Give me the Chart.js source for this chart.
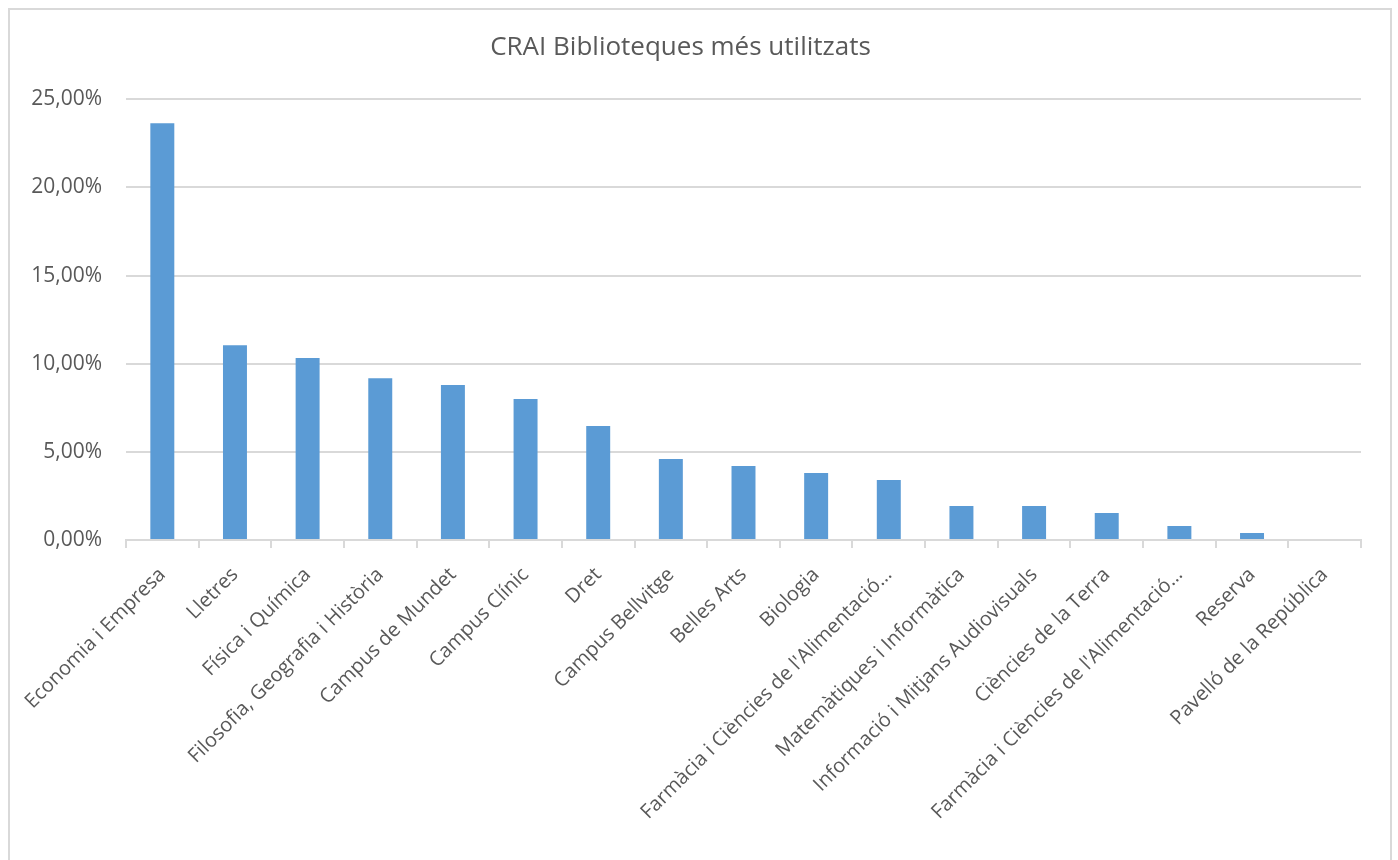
<!DOCTYPE html>
<html>
<head>
<meta charset="utf-8">
<script src="https://cdn.jsdelivr.net/npm/chart.js@4"></script>
<style>
	html, body { margin: 0; padding: 0; background: #fff; }
	#frame {
		position: absolute; left: 8px; top: 8px; width: 1380px; height: 860px;
		border: 2px solid #d9d9d9; border-bottom: none;
	}
	#box { position: absolute; left: 0; top: 0; width: 1398px; height: 860px; }
</style>
</head>
<body>
<div id="frame"></div>
<div id="box"><canvas id="my_chart" width="1398" height="860"></canvas></div>
<script>
// Chart data
const libraries = ['Economia i Empresa', 'Lletres', 'Física i Química',
	'Filosofia, Geografia i Història', 'Campus de Mundet', 'Campus Clínic',
	'Dret', 'Campus Bellvitge', 'Belles Arts', 'Biologia',
	"Farmàcia i Ciències de l'Alimentació…", 'Matemàtiques i Informàtica',
	'Informació i Mitjans Audiovisuals', 'Ciències de la Terra',
	"Farmàcia i Ciències de l'Alimentació…", 'Reserva', 'Pavelló de la República']
const usage = [23.64, 11.05, 10.32, 9.18, 8.79, 7.99, 6.46, 4.59, 4.19, 3.80,
	3.40, 1.93, 1.93, 1.53, 0.79, 0.40, 0]
const y_ticks = [0, 5, 10, 15, 20, 25]

const text_color = '#595959'
const grid_color = '#d9d9d9'

var ctx = document.getElementById('my_chart')
var chart = new Chart(ctx, {
	type: 'bar',
	data: {
		labels: libraries,
		datasets: [{
			data: usage,
			backgroundColor: '#5b9bd5',
			categoryPercentage: 1,
			barPercentage: 0.33
		}]
	},
	options: {
		responsive: false,
		animation: false,
		layout: { padding: { left: 0, right: 37, top: 0, bottom: 0 } },
		plugins: {
			legend: { display: false },
			tooltip: { enabled: false },
			title: {
				display: true,
				text: 'CRAI Biblioteques més utilitzats',
				color: text_color,
				font: { family: 'Open Sans', size: 26, weight: 'normal' },
				padding: { top: 32, bottom: 36 }
			}
		},
		scales: {
			x: {
				grid: {
					drawOnChartArea: false,
					color: grid_color,
					lineWidth: 2,
					tickLength: 8
				},
				border: { color: grid_color, width: 2 },
				ticks: {
					autoSkip: false,
					minRotation: 45,
					maxRotation: 45,
					padding: 15,
					color: text_color,
					font: { family: 'Open Sans', size: 20 }
				},
				afterFit: function(scale) { scale.height = 320 }
			},
			y: {
				min: 0,
				max: 25,
				afterBuildTicks: function(scale) {
					scale.ticks = y_ticks.map(v => ({ value: v }))
				},
				grid: { color: grid_color, lineWidth: 2, drawTicks: false },
				border: { display: false },
				ticks: {
					padding: 24,
					color: text_color,
					font: { family: 'Open Sans', size: 21 },
					callback: v => v.toFixed(2).replace('.', ',') + '%'
				},
				afterFit: function(scale) { scale.width = 126 }
			}
		}
	}
});
</script>
</body>
</html>
